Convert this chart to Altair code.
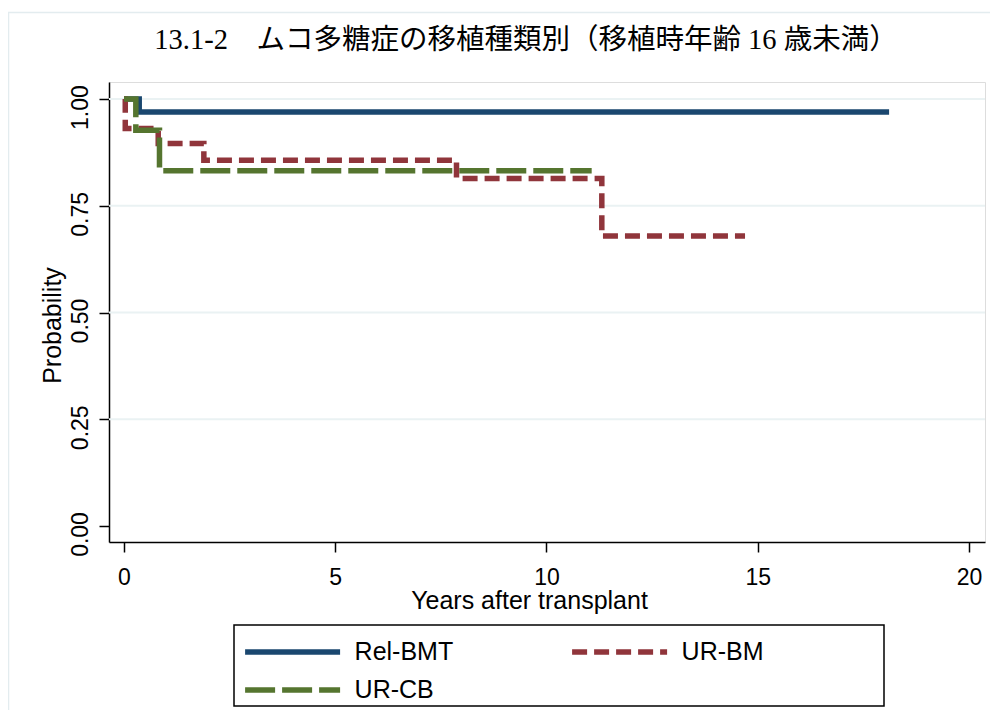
import altair as alt
import pandas as pd

# ---- data ----
groups = ["Rel-BMT", "UR-BM", "UR-CB"]
rel_t = [0.0, 0.36, 18.11]
rel_s = [1.0, 0.970, 0.970]
urbm_t = [0.0, 0.03, 0.81, 1.89, 7.87, 11.31, 14.70]
urbm_s = [1.0, 0.931, 0.896, 0.857, 0.814, 0.679, 0.679]
urcb_t = [0.0, 0.28, 0.84, 11.07]
urcb_s = [1.0, 0.927, 0.832, 0.832]
x_ticks = [0, 5, 10, 15, 20]
y_ticks = [0.0, 0.25, 0.5, 0.75, 1.0]
grid_vals = [0.25, 0.5, 0.75, 1.0]

colors = ["#1a476f", "#90353b", "#55752f"]
dashes = [[1, 0], [15, 7], [30, 7]]

rows = []
for g, ts, ss in zip(groups, [rel_t, urbm_t, urcb_t], [rel_s, urbm_s, urcb_s]):
    for i, (t, s) in enumerate(zip(ts, ss)):
        rows.append({"group": g, "time": t, "surv": s, "order": i})
df = pd.DataFrame(rows)
grid_df = pd.DataFrame({"surv": grid_vals})

FONT = "Liberation Sans"

xscale = alt.Scale(domain=[-0.355, 20.38], nice=False, zero=False)
yscale = alt.Scale(domain=[-0.0375, 1.040], nice=False, zero=False)

xaxis = alt.Axis(
    values=x_ticks, format="d", title="Years after transplant", grid=False,
    domainColor="black", domainWidth=1.5, tickColor="black", tickWidth=1.5, tickSize=10,
    labelFont=FONT, labelFontSize=23, labelColor="black", labelPadding=25,
    labelBaseline="middle", labelFlush=False,
    titleFont=FONT, titleFontSize=25, titleFontWeight="normal", titleColor="black",
    titleX=420, titleY=58, titleAlign="center", titleBaseline="middle",
)
yaxis = alt.Axis(
    values=y_ticks, format=".2f", title="Probability", grid=False,
    domainColor="black", domainWidth=1.5, tickColor="black", tickWidth=1.5, tickSize=10,
    labelFont=FONT, labelFontSize=23, labelColor="black", labelPadding=19,
    labelAngle=270, labelAlign="center", labelBaseline="middle", labelOffset=8,
    labelFlush=False,
    titleFont=FONT, titleFontSize=25, titleFontWeight="normal", titleColor="black",
    titleX=-57, titleY=243, titleAngle=270, titleAlign="center", titleBaseline="middle",
)

# stroke symbol drawn as a wide custom path so the row height stays small
legend = alt.Legend(
    title=None, orient="none", legendX=136, legendY=555, columns=2, direction="horizontal",
    values=groups,
    symbolType="M-4,0H4", symbolSize=564, symbolStrokeWidth=5.5, symbolOffset=32.6,
    labelFont=FONT, labelFontSize=25, labelColor="black", labelOffset=47,
    columnPadding=107, rowPadding=10, padding=0,
)

color = alt.Color("group:N", scale=alt.Scale(domain=groups, range=colors), legend=legend)
dash = alt.StrokeDash("group:N", scale=alt.Scale(domain=groups, range=dashes), legend=legend)

grid = alt.Chart(grid_df).mark_rule(color="#eaf2f3", strokeWidth=2).encode(
    y=alt.Y("surv:Q", scale=yscale, axis=yaxis)
)

def curve(g):
    return alt.Chart(df).transform_filter(alt.datum.group == g).mark_line(
        interpolate="step-after", strokeWidth=5.5, strokeCap="butt"
    ).encode(
        x=alt.X("time:Q", scale=xscale, axis=xaxis),
        y=alt.Y("surv:Q", scale=yscale, axis=yaxis),
        order="order:Q",
        color=color,
        strokeDash=dash,
    )

one = alt.Data(values=[{"k": 1}])
legend_box = alt.Chart(one).mark_rect(filled=False, stroke="black", strokeWidth=1.5).encode(
    x=alt.value(125), x2=alt.value(775), y=alt.value(543), y2=alt.value(624)
)
outer = alt.Chart(one).mark_rect(filled=False, stroke="#e3ecef", strokeWidth=1.5).encode(
    x=alt.value(-100.5), x2=alt.value(2000), y=alt.value(-69.5), y2=alt.value(2000)
)

chart = alt.layer(
    outer, grid, curve("Rel-BMT"), curve("UR-BM"), curve("UR-CB"), legend_box
).properties(
    width=876, height=460,
    padding={"left": 101, "top": 74, "right": 5, "bottom": 168},
    autosize=alt.AutoSizeParams(type="none"),
    title=alt.TitleParams(
        text="13.1-2\u3000ムコ多糖症の移植種類別（移植時年齢 16 歳未満）",
        font="Liberation Serif, Noto Sans CJK JP", fontSize=28.5, fontWeight="normal",
        color="black", anchor="middle", frame="group", dx=-21, dy=28,
        offset=-28.25, baseline="middle",
    ),
).configure_view(stroke=None).configure(background="white")

chart.save("out.html", embed_options={"renderer": "svg", "actions": False})
